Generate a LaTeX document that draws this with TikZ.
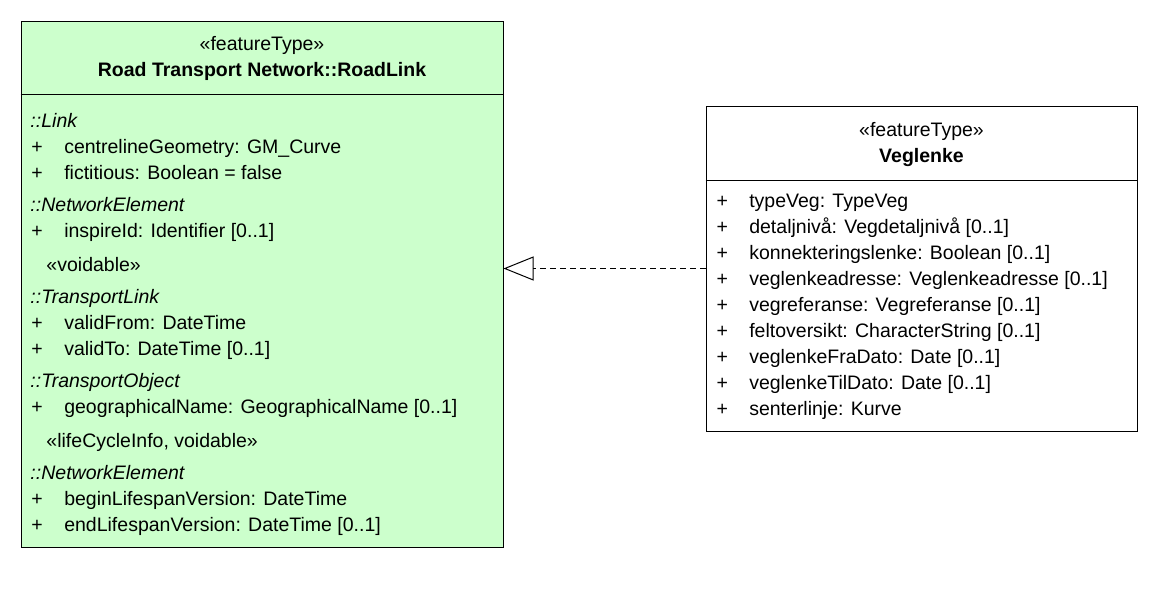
\documentclass[tikz,border=0pt]{standalone}
\usepackage{fontspec}
\setmainfont{Liberation Sans}
\usepackage{xcolor}
\usetikzlibrary{arrows.meta}

\definecolor{featgreen}{HTML}{CCFFCC}
\newcommand{\pub}{\makebox[16.4pt][l]{+}}

\begin{document}
\begin{tikzpicture}[
    x=0.5pt, y=-0.5pt, % one unit = one pixel of the diagram
    line width=0.5pt, % thin UML lines
    font=\fontsize{9.75}{12}\selectfont
  ]

  \tikzstyle{classbox}=[
    draw = black,
    inner sep = 0pt,
    line width = 0.5pt
  ]
  \tikzstyle{stereo}=[anchor=base, inner sep=0pt]
  \tikzstyle{classname}=[anchor=base, inner sep=0pt, font=\fontsize{9.75}{12}\selectfont\bfseries]
  \tikzstyle{attr}=[anchor=base west, inner sep=0pt]
  \tikzstyle{group}=[anchor=base west, inner sep=0pt, font=\fontsize{9.75}{12}\selectfont\itshape]
  \tikzstyle{realize}=[dash pattern=on 3pt off 2pt, -{Triangle[open, length=15pt, width=12pt]}]

  \useasboundingbox (0,0) rectangle (1158,606);

  % RoadLink class
  \node[classbox, fill=featgreen, minimum width=241pt, minimum height=263pt] (roadlink) at (262,284) {};
  \draw (roadlink.west |- 0,94) -- (roadlink.east |- 0,94);
  \node[stereo] (rlStereo) at (262,50) {«featureType»};
  \node[classname] (rlName) at (262,76.5) {Road Transport Network::RoadLink};

  \node[group] (gLink) at (30,127) {::Link};
  \node[attr] (aGeom) at (31,153) {\pub centrelineGeometry: GM\_Curve};
  \node[attr] (aFict) at (31,179) {\pub fictitious: Boolean = false};
  \node[group] (gNetElem) at (30,211) {::NetworkElement};
  \node[attr] (aInspire) at (31,237) {\pub inspireId: Identifier [0..1]};
  \node[attr] (sVoid) at (46,271) {«voidable»};
  \node[group] (gTrLink) at (30,303) {::TransportLink};
  \node[attr] (aFrom) at (31,329) {\pub validFrom: DateTime};
  \node[attr] (aTo) at (31,355) {\pub validTo: DateTime [0..1]};
  \node[group] (gTrObj) at (30,387) {::TransportObject};
  \node[attr] (aGeoName) at (31,413) {\pub geographicalName: GeographicalName [0..1]};
  \node[attr] (sLife) at (46,447) {«lifeCycleInfo, voidable»};
  \node[group] (gNetElem2) at (30,479) {::NetworkElement};
  \node[attr] (aBegin) at (31,505) {\pub beginLifespanVersion: DateTime};
  \node[attr] (aEnd) at (31,531) {\pub endLifespanVersion: DateTime [0..1]};

  % Veglenke class
  \node[classbox, fill=white, minimum width=215.5pt, minimum height=162.5pt] (veglenke) at (921.5,268.5) {};
  \draw (veglenke.west |- 0,180) -- (veglenke.east |- 0,180);
  \node[stereo] (vlStereo) at (921.5,136.5) {«featureType»};
  \node[classname] (vlName) at (921.5,162.5) {Veglenke};

  \node[attr] (vType) at (716,207) {\pub typeVeg: TypeVeg};
  \node[attr] (vDetalj) at (716,233) {\pub detaljnivå: Vegdetaljnivå [0..1]};
  \node[attr] (vKonn) at (716,259) {\pub konnekteringslenke: Boolean [0..1]};
  \node[attr] (vAdr) at (716,285) {\pub veglenkeadresse: Veglenkeadresse [0..1]};
  \node[attr] (vRef) at (716,311) {\pub vegreferanse: Vegreferanse [0..1]};
  \node[attr] (vFelt) at (716,337) {\pub feltoversikt: CharacterString [0..1]};
  \node[attr] (vFra) at (716,363) {\pub veglenkeFraDato: Date [0..1]};
  \node[attr] (vTil) at (716,389) {\pub veglenkeTilDato: Date [0..1]};
  \node[attr] (vSenter) at (716,415) {\pub senterlinje: Kurve};

  % realization
  \draw[realize] (veglenke.west) -- (roadlink.east |- veglenke.west);
\end{tikzpicture}
\end{document}
